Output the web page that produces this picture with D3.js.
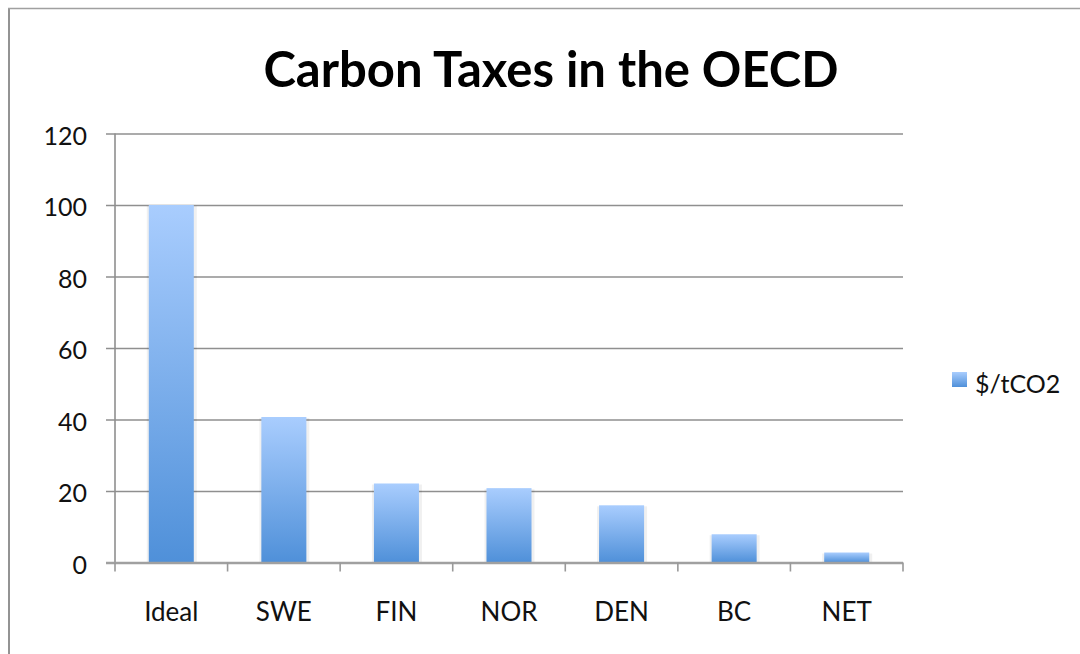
<!DOCTYPE html>
<html>
<head>
<meta charset="utf-8">
<script src="https://cdn.jsdelivr.net/npm/d3@7"></script>
<style>
  html, body { margin: 0; padding: 0; background: #fff; }
  svg { display: block; font-family: Lato, 'Open Sans', sans-serif; }
</style>
</head>
<body>
<div id="chart"></div>
<script>
const categories = ['Ideal', 'SWE', 'FIN', 'NOR', 'DEN', 'BC', 'NET']
const taxValues = [100, 40.7, 22.1, 20.8, 16, 7.9, 2.8]
const yTicks = [0, 20, 40, 60, 80, 100, 120]
const seriesName = '$/tCO2'
const chartTitle = 'Carbon Taxes in the OECD'

const width = 1080
const height = 654
const plot = { left: 115, right: 903, top: 133.5, bottom: 562.5 }
const fontFamily = 'Lato, "Open Sans", sans-serif'

const svg = d3.select('#chart').append('svg')
  .attr('width', width)
  .attr('height', height)

// bar gradient, light on top
const grad = svg.append('defs').append('linearGradient')
  .attr('id', 'barGrad')
  .attr('x1', 0).attr('y1', 0).attr('x2', 0).attr('y2', 1)
grad.append('stop').attr('offset', '0%').attr('stop-color', '#a9cdfe')
grad.append('stop').attr('offset', '100%').attr('stop-color', '#4f90d9')

// outer frame (only left and top visible)
svg.append('line')
  .attr('x1', 9).attr('x2', 9).attr('y1', 8).attr('y2', height)
  .attr('stroke', '#939393').attr('stroke-width', 2)
svg.append('line')
  .attr('x1', 8).attr('x2', width).attr('y1', 8.5).attr('y2', 8.5)
  .attr('stroke', '#a0a0a0').attr('stroke-width', 1.5)

const x = d3.scaleBand()
  .domain(categories)
  .range([plot.left, plot.right])
  .padding(0)

const y = d3.scaleLinear()
  .domain([0, 120])
  .range([plot.bottom, plot.top])

// gridlines + y labels
const yAxis = svg.append('g')
  .attr('transform', 'translate(106,0)')
  .call(d3.axisLeft(y).tickValues(yTicks).tickSize(-(plot.right - 106)).tickPadding(19))
yAxis.select('.domain').remove()
yAxis.selectAll('.tick line')
  .attr('stroke', '#8f8f8f')
  .attr('stroke-width', 1.6)
yAxis.selectAll('.tick text')
  .attr('dy', '0.42em')
  .style('font-family', fontFamily)
  .style('font-size', '25px')
  .attr('fill', '#111')

// vertical axis line
svg.append('line')
  .attr('x1', plot.left).attr('x2', plot.left)
  .attr('y1', plot.top).attr('y2', plot.bottom)
  .attr('stroke', '#8f8f8f').attr('stroke-width', 1.6)

// bars with a faint shadow
const barW = x.bandwidth() * 0.4
const bars = svg.append('g')
bars.selectAll('rect.shadow')
  .data(taxValues)
  .join('rect')
  .attr('class', 'shadow')
  .attr('x', (d, i) => x(categories[i]) + (x.bandwidth() - barW) / 2 - 2)
  .attr('y', d => y(d) + 1)
  .attr('width', barW + 5)
  .attr('height', d => y(0) - y(d) - 1)
  .attr('fill', '#000')
  .attr('opacity', 0.06)
bars.selectAll('rect.bar')
  .data(taxValues)
  .join('rect')
  .attr('class', 'bar')
  .attr('x', (d, i) => x(categories[i]) + (x.bandwidth() - barW) / 2)
  .attr('y', d => y(d))
  .attr('width', barW)
  .attr('height', d => y(0) - y(d))
  .attr('fill', 'url(#barGrad)')

// x axis line and tick marks at band edges
const edges = categories.map(c => x(c)).concat([plot.right])
svg.append('line')
  .attr('x1', plot.left - 9).attr('x2', plot.right)
  .attr('y1', plot.bottom + 0.5).attr('y2', plot.bottom + 0.5)
  .attr('stroke', '#a0a0a0').attr('stroke-width', 2.6)
svg.append('g').selectAll('line')
  .data(edges)
  .join('line')
  .attr('x1', d => d).attr('x2', d => d)
  .attr('y1', plot.bottom).attr('y2', plot.bottom + 9)
  .attr('stroke', '#999').attr('stroke-width', 1.6)

const xAxis = svg.append('g')
  .attr('transform', `translate(0,${plot.bottom})`)
  .call(d3.axisBottom(x).tickSize(0).tickPadding(40))
xAxis.select('.domain').remove()
xAxis.selectAll('.tick text')
  .attr('dy', '0.71em')
  .style('font-family', fontFamily)
  .style('font-size', '26px')
  .attr('fill', '#111')

// title
svg.append('text')
  .attr('x', 551)
  .attr('y', 87)
  .attr('text-anchor', 'middle')
  .style('font-size', '49px')
  .style('font-weight', 'bold')
  .attr('fill', '#000')
  .text(chartTitle)

// legend
const legend = svg.append('g').attr('transform', 'translate(952,372)')
legend.append('rect')
  .attr('width', 15).attr('height', 15)
  .attr('fill', 'url(#barGrad)')
legend.append('text')
  .attr('x', 23).attr('y', 21)
  .style('font-size', '25px')
  .attr('fill', '#111')
  .text(seriesName)
</script>
</body>
</html>
